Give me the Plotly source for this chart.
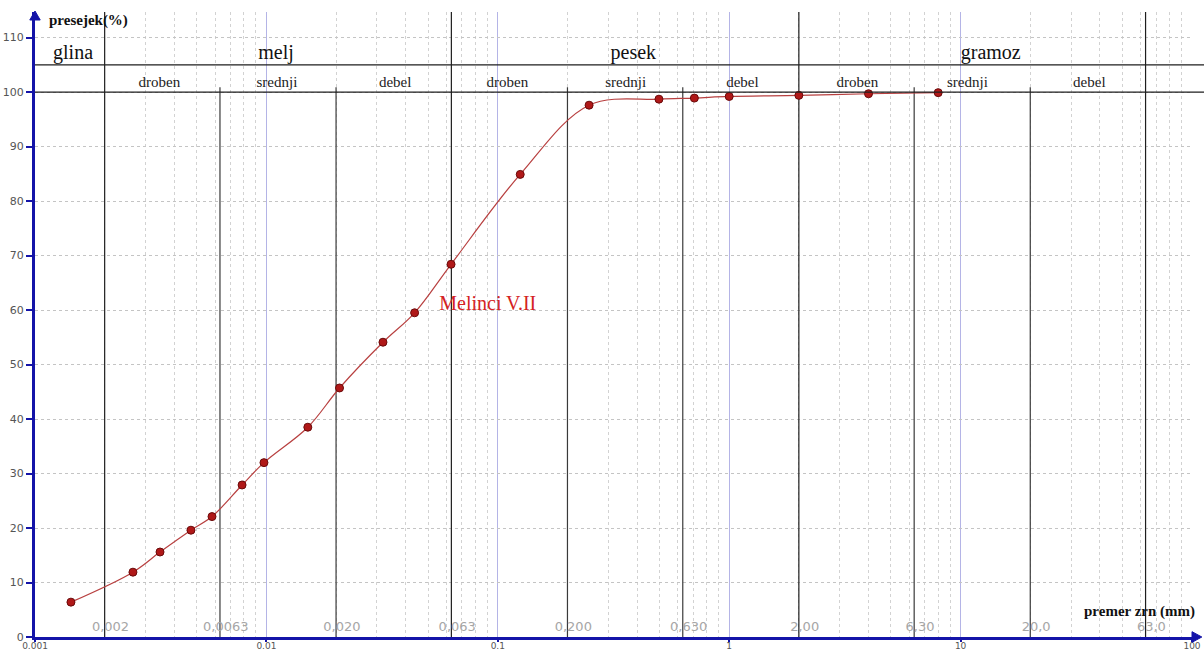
import plotly.graph_objects as go

# Grain size distribution (sieve + hydrometer), sample "Melinci V.II"
diameter_mm = [0.00143, 0.00265, 0.00347, 0.00472, 0.00582, 0.00785, 0.00976,
               0.0151, 0.0207, 0.0319, 0.0437, 0.0628, 0.125, 0.248, 0.497,
               0.707, 1.0, 2.0, 4.0, 8.0]
passing_pct = [6.4, 11.9, 15.6, 19.6, 22.1, 27.9, 32.0, 38.5, 45.7, 54.1, 59.5,
               68.4, 84.9, 97.6, 98.7, 98.9, 99.2, 99.4, 99.7, 99.9]
sample_name = "Melinci V.II"

# Fraction boundaries (mm) and their labels
bound_vals = [0.002, 0.0063, 0.02, 0.063, 0.2, 0.63, 2.0, 6.3, 20.0, 63.0]
bound_text = ["0,002", "0,0063", "0,020", "0,063", "0,200", "0,630", "2,00",
              "6,30", "20,0", "63,0"]
main_bounds = [0.002, 0.063, 2.0, 63.0]

# Soil classes and sub-classes
class_names = ["glina", "melj", "pesek", "gramoz"]
class_pos = [0.00146, 0.0110, 0.385, 13.5]
sub_names = ["droben", "srednji", "debel", "droben", "srednji", "debel",
             "droben", "srednji", "debel"]
sub_pos = [0.00345, 0.0111, 0.0360, 0.110, 0.357, 1.14, 3.58, 10.7, 36.0]

x_tick_vals = [0.001, 0.01, 0.1, 1, 10, 100]
x_tick_text = ["0.001", "0.01", "0.1", "1", "10", "100"]
y_tick_vals = list(range(0, 111, 10))
minor_vals = [m * 10 ** e for e in range(-3, 2) for m in range(2, 10)]

Y_TOP = 114.7
AXIS_BLUE = "#1414a8"

fig = go.Figure()

# boundary lines: main ones full height, the others up to 100 %
for b in bound_vals:
    full = b in main_bounds
    fig.add_trace(go.Scatter(
        x=[b, b], y=[0, Y_TOP if full else 100.9], mode="lines",
        line=dict(color="#1e1e1e" if full else "#3a3a3a", width=1.2),
        hoverinfo="skip", showlegend=False))

# boundary value labels along the bottom
fig.add_trace(go.Scatter(
    x=[b * 1.06 for b in bound_vals], y=[1.7] * len(bound_vals),
    mode="text", text=bound_text,
    textfont=dict(family="DejaVu Sans", size=13, color="#a6a6a6"),
    hoverinfo="skip", showlegend=False, cliponaxis=False))

# class and sub-class names
fig.add_trace(go.Scatter(
    x=class_pos, y=[107.0] * len(class_pos), mode="text", text=class_names,
    textfont=dict(family="Liberation Serif", size=20, color="#111111"),
    hoverinfo="skip", showlegend=False, cliponaxis=False))
fig.add_trace(go.Scatter(
    x=sub_pos, y=[101.7] * len(sub_pos), mode="text", text=sub_names,
    textfont=dict(family="Liberation Serif", size=15, color="#222222"),
    hoverinfo="skip", showlegend=False, cliponaxis=False))

# grading curve
fig.add_trace(go.Scatter(
    x=diameter_mm, y=passing_pct, mode="lines+markers",
    line=dict(color="#b84040", width=1.2, shape="spline", smoothing=1.0),
    marker=dict(size=8, color="#b01818", line=dict(color="#6a0a0a", width=1)),
    showlegend=False))

# sample name
fig.add_trace(go.Scatter(
    x=[0.0905], y=[61.0], mode="text", text=[sample_name],
    textfont=dict(family="Liberation Serif", size=20, color="#d42222"),
    hoverinfo="skip", showlegend=False, cliponaxis=False))

shapes = [
    # class band separators
    dict(type="line", xref="paper", yref="y", x0=0, x1=1.011, y0=100, y1=100,
         line=dict(color="#1e1e1e", width=1.2)),
    dict(type="line", xref="paper", yref="y", x0=0, x1=1.011, y0=105, y1=105,
         line=dict(color="#1e1e1e", width=1.2)),
    # axis arrows
    dict(type="path", xref="paper", yref="paper",
         path="M -0.0045,0.9872 L 0.0045,0.9872 L 0,1.0016 Z",
         fillcolor=AXIS_BLUE, line=dict(color=AXIS_BLUE, width=1)),
    dict(type="path", xref="paper", yref="paper",
         path="M 1.0,-0.0085 L 1.0,0.0085 L 1.0085,0 Z",
         fillcolor=AXIS_BLUE, line=dict(color=AXIS_BLUE, width=1)),
]

annotations = [
    dict(text="<b>presejek(%)</b>", xref="paper", yref="paper",
         x=0.0104, y=(637 - 20) / 625, xanchor="left", yanchor="middle",
         showarrow=False,
         font=dict(family="Liberation Serif", size=15, color="#111111")),
    dict(text="<b>premer zrn (mm)</b>", xref="paper", yref="paper",
         x=(1197 - 35) / 1157, y=(637 - 611) / 625, xanchor="right",
         yanchor="middle", showarrow=False,
         font=dict(family="Liberation Serif", size=15, color="#111111")),
]

fig.update_layout(
    width=1204, height=652,
    margin=dict(l=35, r=12, t=12, b=15, autoexpand=False),
    paper_bgcolor="white", plot_bgcolor="white",
    shapes=shapes, annotations=annotations,
    xaxis=dict(
        type="log", range=[-3, 2], automargin=False,
        tickvals=x_tick_vals, ticktext=x_tick_text,
        tickfont=dict(family="DejaVu Sans", size=9, color="#555555"),
        ticks="outside", ticklen=2, tickcolor=AXIS_BLUE, tickwidth=2,
        ticklabelstandoff=-4,
        showline=True, linecolor=AXIS_BLUE, linewidth=3,
        showgrid=True, gridcolor="#b4b4e6", gridwidth=1,
        minor=dict(tickmode="array", tickvals=minor_vals, showgrid=True,
                   gridcolor="#d2d2d2", griddash="dot", gridwidth=1,
                   ticks=""),
        zeroline=False, fixedrange=True),
    yaxis=dict(
        range=[0, Y_TOP], automargin=False,
        tickvals=y_tick_vals,
        tickfont=dict(family="DejaVu Sans", size=11, color="#555555"),
        ticks="outside", ticklen=6, tickcolor=AXIS_BLUE, tickwidth=2,
        showline=True, linecolor=AXIS_BLUE, linewidth=3,
        showgrid=True, gridcolor="#c4c4c4", griddash="dot", gridwidth=1,
        zeroline=False, fixedrange=True),
)

fig.write_html("out.html")
